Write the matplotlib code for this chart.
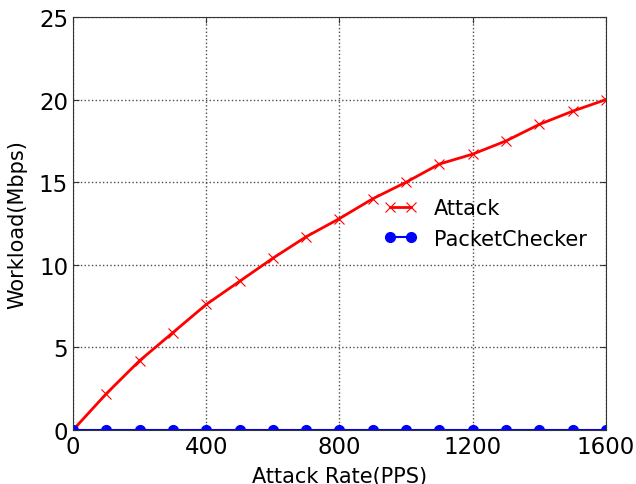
import matplotlib
matplotlib.use("Agg")
import matplotlib.pyplot as plt

# attack rate (packets per second)
rates = [0, 100, 200, 300, 400, 500, 600, 700, 800, 900, 1000,
         1100, 1200, 1300, 1400, 1500, 1600]
# workload in Mbps
attack = [0.0, 2.2, 4.2, 5.9, 7.6, 9.0, 10.4, 11.7, 12.8, 14.0, 15.0,
          16.1, 16.7, 17.5, 18.5, 19.3, 20.0]
packetchecker = [0.0] * len(rates)

xticks = [0, 400, 800, 1200, 1600]
yticks = [0, 5, 10, 15, 20, 25]

fig = plt.figure(figsize=(6.36, 4.85), dpi=100)
ax = fig.add_axes([0.1148, 0.1113, 0.8380, 0.8516])

ax.plot(rates, attack, color="red", marker="x", markersize=7,
        markeredgewidth=0.8, linewidth=2, label="Attack")
ax.plot(rates, packetchecker, color="blue", marker="o", markersize=7,
        markeredgecolor="blue", linewidth=1.5, label="PacketChecker")

ax.set_xlim(0, 1600)
ax.set_ylim(0, 25)
ax.set_xticks(xticks)
ax.set_yticks(yticks)
ax.tick_params(labelsize=16.5, direction="in", top=True, right=True,
               length=4, color="0.2")
for s in ax.spines.values():
    s.set_color("0.2")
ax.grid(True, color="0.3", linestyle=":", linewidth=1)

ax.set_xlabel("Attack Rate(PPS)", fontsize=15, labelpad=5.5)
ax.set_ylabel("Workload(Mbps)", fontsize=15, labelpad=8)

ax.legend(loc="center left", bbox_to_anchor=(0.548, 0.50), frameon=False,
          fontsize=15, handlelength=1.6, numpoints=2)

fig.savefig("out.png", dpi=100, facecolor="white")
